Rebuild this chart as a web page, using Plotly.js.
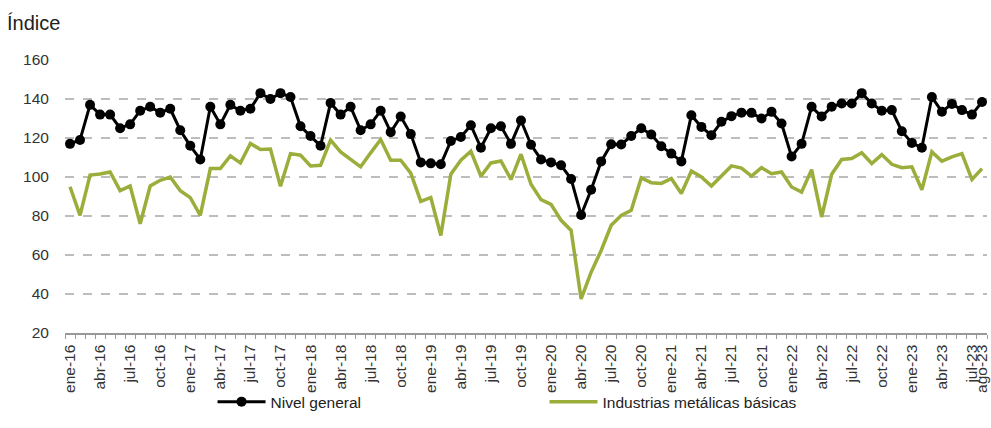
<!DOCTYPE html>
<html>
<head>
<meta charset="utf-8">
<script src="https://cdn.plot.ly/plotly-3.0.1.min.js"></script>
<style>html,body{margin:0;padding:0;background:#fff;}#chart{width:991px;height:428px;}</style>
</head>
<body>
<div id="chart"></div>
<script>
const meses = ['ene','feb','mar','abr','may','jun','jul','ago','sep','oct','nov','dic'];
const categories = [];
for (let y = 16; y <= 23; y++) {
  for (let m = 0; m < 12; m++) {
    if (y === 23 && m > 7) break;
    categories.push(meses[m] + '-' + y);
  }
}

const nivelGeneral = [
  117, 119, 137, 132, 132, 125, 127, 134, 136, 133, 135, 124,
  116, 109, 136, 127, 137, 134, 135, 143, 140, 143, 141, 126,
  121, 116, 138, 132, 136, 124, 127, 134, 123, 131, 122, 107.5,
  107, 106.5, 118.5, 120.5, 126.5, 115, 125, 126, 117, 129, 116.5, 109,
  107.5, 106, 99, 80.5, 93.5, 108, 116.8, 116.7, 121, 125, 121.8, 115.8,
  112, 108, 131.7, 125.7, 121.4, 128.3, 131.2, 133, 132.9, 130, 133.4, 127.4,
  110.5, 117, 136, 131, 136, 137.7, 137.7, 143, 137.7, 134, 134.3, 123.5,
  117.5, 115, 141, 133.5, 137.5, 134.3, 132, 138.5
];

const industriasMetalicas = [
  95, 80.3, 101, 101.5, 102.6, 93, 95.4, 76, 95.4, 98.3, 100, 93,
  89.4, 80.3, 104.3, 104.3, 110.8, 107.2, 117.2, 114.1, 114.3, 95.2, 112, 111.2,
  105.7, 106, 118.9, 112.9, 109, 105.2, 112.4, 119.2, 108.6, 108.6, 102, 87.5,
  89.5, 70, 101.4, 108.6, 113.2, 100.4, 107.2, 108.2, 98.7, 111.7, 96.3, 88.4,
  86, 77.8, 72.6, 37.5, 51.2, 62.3, 75.2, 80.3, 82.9, 99.5, 97.1, 96.7,
  99.2, 91.5, 103.1, 100, 95.4, 100.5, 105.7, 104.6, 100.5, 104.8, 101.7, 102.6,
  94.9, 92.3, 103.8, 79.5, 101.4, 109, 109.5, 112.4, 106.9, 111.5, 106.5, 104.8,
  105.2, 93.5, 112.9, 108.1, 110.3, 112, 98.7, 104.3
];

const seriesNames = ['Nivel general', 'Industrias metálicas básicas'];
const yTicks = [20, 40, 60, 80, 100, 120, 140, 160];

const xIdx = categories.map((_, i) => i);
const tickIdx = xIdx.filter(i => i % 3 === 0 || i === categories.length - 1);
const tickText = tickIdx.map(i => categories[i]);

const FONT = '"Liberation Sans", Arial, sans-serif';

const traces = [
  {
    x: xIdx, y: industriasMetalicas, name: seriesNames[1], type: 'scatter', mode: 'lines',
    line: {color: '#9bad3a', width: 3.5}, legendrank: 2, hoverinfo: 'skip'
  },
  {
    x: xIdx, y: nivelGeneral, name: seriesNames[0], type: 'scatter', mode: 'lines+markers',
    line: {color: '#000000', width: 3}, marker: {color: '#000000', size: 10},
    legendrank: 1, hoverinfo: 'skip'
  }
];

const layout = {
  width: 991, height: 428,
  margin: {l: 65, r: 4, t: 60, b: 95},
  paper_bgcolor: '#ffffff', plot_bgcolor: '#ffffff',
  font: {family: FONT, color: '#333333', size: 15},
  title: {
    text: 'Índice', x: 7 / 991, xanchor: 'left', xref: 'container',
    y: 1 - 23 / 428, yanchor: 'middle', yref: 'container',
    font: {family: FONT, size: 20, color: '#222222'}
  },
  showlegend: true,
  legend: {
    orientation: 'h', x: 0.16, xanchor: 'left', y: -0.253, yanchor: 'middle',
    bgcolor: 'rgba(0,0,0,0)',
    font: {family: FONT, size: 15.5, color: '#222222'},
    entrywidth: 269, itemwidth: 48, traceorder: 'normal'
  },
  xaxis: {
    type: 'linear', range: [-0.5, categories.length - 0.5],
    tickmode: 'array', tickvals: tickIdx, ticktext: tickText,
    tickangle: -90, ticks: 'outside', ticklen: 4, tickcolor: 'rgba(0,0,0,0)',
    tickfont: {family: FONT, size: 15.5, color: '#333333'},
    showgrid: false, zeroline: false,
    showline: true, linecolor: '#999999', linewidth: 1.5,
    minor: {tickmode: 'linear', tick0: -0.5, dtick: 1, ticks: 'outside', ticklen: 4, tickcolor: '#999999', tickwidth: 1, showgrid: false},
    fixedrange: true
  },
  yaxis: {
    range: [20, 160], tickmode: 'array', tickvals: yTicks,
    ticks: 'outside', ticklen: 12, tickcolor: 'rgba(0,0,0,0)',
    tickfont: {family: FONT, size: 15.5, color: '#333333'},
    showgrid: true, gridcolor: '#bdbdbd', gridwidth: 1.5, griddash: 'dash',
    zeroline: false, showline: false, fixedrange: true
  }
};

Plotly.newPlot('chart', traces, layout, {displayModeBar: false, staticPlot: true});
</script>
</body>
</html>
